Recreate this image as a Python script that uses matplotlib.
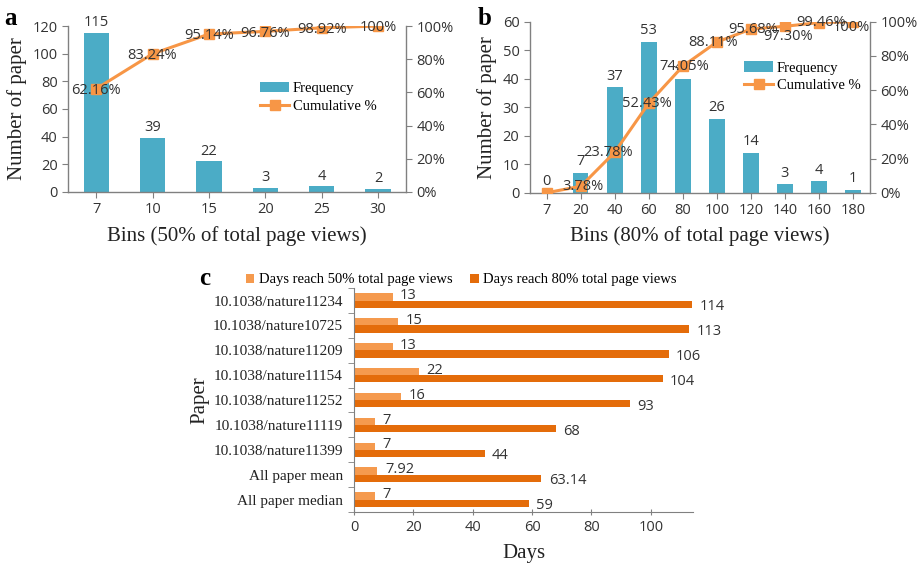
import matplotlib
matplotlib.use("Agg")
import matplotlib.pyplot as plt
import numpy as np

# Panel a data
a_bins = ["7", "10", "15", "20", "25", "30"]
a_freq = [115, 39, 22, 3, 4, 2]
a_cum = [62.16, 83.24, 95.14, 96.76, 98.92, 100.0]

# Panel b data
b_bins = ["7", "20", "40", "60", "80", "100", "120", "140", "160", "180"]
b_freq = [0, 7, 37, 53, 40, 26, 14, 3, 4, 1]
b_cum = [0.0, 3.78, 23.78, 52.43, 74.05, 88.11, 95.68, 97.30, 99.46, 100.0]

# Panel c data
c_papers = ["10.1038/nature11234", "10.1038/nature10725", "10.1038/nature11209",
            "10.1038/nature11154", "10.1038/nature11252", "10.1038/nature11119",
            "10.1038/nature11399", "All paper mean", "All paper median"]
c_days50 = [13, 15, 13, 22, 16, 7, 7, 7.92, 7]
c_days80 = [114, 113, 106, 104, 93, 68, 44, 63.14, 59]
c_lab50 = ["13", "15", "13", "22", "16", "7", "7", "7.92", "7"]
c_lab80 = ["114", "113", "106", "104", "93", "68", "44", "63.14", "59"]

BLUE = "#4BACC6"
ORANGE = "#F79646"
LIGHT_OR = "#F59A4E"
DARK_OR = "#E46C0A"
GRAY = "#808080"
TXT = "#333333"
SERIF = "Liberation Serif"
SANS = "Open Sans"

fig = plt.figure(figsize=(9.23, 5.66), dpi=100)


def style_axes(ax, ax2):
    for s in ["top"]:
        ax.spines[s].set_visible(False)
        ax2.spines[s].set_visible(False)
    ax.spines["right"].set_visible(False)
    ax2.spines["left"].set_visible(False)
    ax2.spines["bottom"].set_visible(False)
    for sp in [ax.spines["left"], ax.spines["bottom"], ax2.spines["right"]]:
        sp.set_color(GRAY)
        sp.set_linewidth(1.0)
    ax.tick_params(axis="y", colors=GRAY, labelcolor=TXT, length=4, labelsize=10.5)
    ax.tick_params(axis="x", colors=GRAY, labelcolor=TXT, length=4, labelsize=10.5)
    ax2.tick_params(axis="y", colors=GRAY, labelcolor=TXT, length=4, labelsize=10.5)
    for lab in ax.get_xticklabels() + ax.get_yticklabels() + ax2.get_yticklabels():
        lab.set_fontfamily(SANS)


def pct(v):
    return f"{v:.0f}%"


LEG_KW = dict(frameon=False, prop={"family": SERIF, "size": 10.5},
              handlelength=2.0, labelspacing=0.3, borderpad=0, handletextpad=0.25)

# ---------------- Panel a ----------------
axa = fig.add_axes([0.0737, 0.661, 0.3663, 0.293])
xa = np.arange(len(a_bins))
axa.bar(xa, a_freq, width=0.45, color=BLUE, label="Frequency", zorder=2)
axa.set_ylim(0, 120)
axa.set_yticks(np.arange(0, 121, 20))
axa.set_xlim(-0.5, len(a_bins) - 0.5)
axa.set_xticks(xa)
axa.set_xticklabels(a_bins)
for x, v in zip(xa, a_freq):
    axa.text(x, v + 2, str(v), ha="center", va="bottom", fontsize=10.5,
             family=SANS, color=TXT)
axa2 = axa.twinx()
axa2.plot(xa, a_cum, color=ORANGE, lw=2.2, marker="s", ms=7, label="Cumulative %", zorder=3)
axa2.set_ylim(0, 100)
axa2.set_yticks(np.arange(0, 101, 20))
axa2.set_yticklabels([pct(v) for v in np.arange(0, 101, 20)])
for x, v in zip(xa, a_cum):
    lab = f"{v:.2f}%" if v < 100 else "100%"
    axa2.text(x, v - 1, lab, ha="center", va="center", fontsize=10.5,
              family=SANS, color=TXT, zorder=4)
style_axes(axa, axa2)
axa.set_ylabel("Number of paper", family=SERIF, fontsize=15, color="#222222")
axa.set_xlabel("Bins (50% of total page views)", family=SERIF, fontsize=15,
               color="#222222", labelpad=6)
h1, l1 = axa.get_legend_handles_labels()
h2, l2 = axa2.get_legend_handles_labels()
axa2.legend(h1 + h2, l1 + l2, loc="upper left", bbox_to_anchor=(0.547, 0.705), **LEG_KW)
fig.text(0.005, 0.955, "a", family=SERIF, fontsize=18, fontweight="bold")

# ---------------- Panel b ----------------
axb = fig.add_axes([0.574, 0.6595, 0.3686, 0.3022])
xb = np.arange(len(b_bins))
axb.bar(xb, b_freq, width=0.45, color=BLUE, label="Frequency", zorder=2)
axb.set_ylim(0, 60)
axb.set_yticks(np.arange(0, 61, 10))
axb.set_xlim(-0.5, len(b_bins) - 0.5)
axb.set_xticks(xb)
axb.set_xticklabels(b_bins)
for x, v in zip(xb, b_freq):
    axb.text(x, v + 1.2, str(v), ha="center", va="bottom", fontsize=10.5,
             family=SANS, color=TXT)
axb2 = axb.twinx()
axb2.plot(xb, b_cum, color=ORANGE, lw=2.2, marker="s", ms=7, label="Cumulative %", zorder=3)
axb2.set_ylim(0, 100)
axb2.set_yticks(np.arange(0, 101, 20))
axb2.set_yticklabels([pct(v) for v in np.arange(0, 101, 20)])
b_dx = [0, 0.05, -0.2, -0.05, 0.05, -0.1, 0.05, 0.1, 0.05, -0.05]
b_dy = [None, 0, 0, 0, 0, 0, 0, -6, 0, -3.5]
for i, (x, v) in enumerate(zip(xb, b_cum)):
    if i == 0:
        continue
    lab = f"{v:.2f}%" if v < 100 else "100%"
    axb2.text(x + b_dx[i], v + b_dy[i], lab, ha="center", va="center", fontsize=10.5,
              family=SANS, color=TXT, zorder=4)
style_axes(axb, axb2)
axb.set_ylabel("Number of paper", family=SERIF, fontsize=15, color="#222222")
axb.set_xlabel("Bins (80% of total page views)", family=SERIF, fontsize=15,
               color="#222222", labelpad=6)
h1, l1 = axb.get_legend_handles_labels()
h2, l2 = axb2.get_legend_handles_labels()
axb2.legend(h1 + h2, l1 + l2, loc="upper left", bbox_to_anchor=(0.609, 0.81), **LEG_KW)
fig.text(0.518, 0.955, "b", family=SERIF, fontsize=18, fontweight="bold")

# ---------------- Panel c ----------------
axc = fig.add_axes([0.3835, 0.0954, 0.3675, 0.3956])
n = len(c_papers)
yc = np.arange(n)
bh = 0.29
axc.barh(yc - bh / 2, c_days50, height=bh, color=LIGHT_OR,
         label="Days reach 50% total page views")
axc.barh(yc + bh / 2, c_days80, height=bh, color=DARK_OR,
         label="Days reach 80% total page views")
for y, v, s in zip(yc, c_days50, c_lab50):
    axc.text(v + 2.5, y - bh / 2 - 0.05, s, ha="left", va="center", fontsize=10.5,
             family=SANS, color=TXT)
for y, v, s in zip(yc, c_days80, c_lab80):
    axc.text(v + 2.5, y + bh / 2 + 0.1, s, ha="left", va="center", fontsize=10.5,
             family=SANS, color=TXT, clip_on=False)
axc.set_ylim(n - 0.5, -0.5)
axc.set_xlim(0, 114.3)
axc.set_xticks([0, 20, 40, 60, 80, 100])
axc.set_yticks(yc)
axc.set_yticklabels(c_papers, family=SERIF, fontsize=11, color="#222222")
axc.set_yticks(np.arange(-0.5, n, 1), minor=True)
axc.tick_params(axis="y", which="major", length=0, pad=8)
axc.tick_params(axis="y", which="minor", length=4, color=GRAY)
axc.tick_params(axis="x", direction="inout", length=5, color=GRAY, labelsize=10.5,
                labelcolor=TXT)
for lab in axc.get_xticklabels():
    lab.set_fontfamily(SANS)
for s in ["top", "right"]:
    axc.spines[s].set_visible(False)
for s in ["left", "bottom"]:
    axc.spines[s].set_color(GRAY)
axc.set_xlabel("Days", family=SERIF, fontsize=15, color="#222222", labelpad=6)
axc.set_ylabel("Paper", family=SERIF, fontsize=15, color="#222222")
axc.yaxis.set_label_coords(-0.425, 0.5)
axc.legend(loc="lower center", bbox_to_anchor=(0.316, 0.975), ncol=2, frameon=False,
           prop={"family": SERIF, "size": 10.5}, handlelength=0.6, handleheight=0.6,
           columnspacing=1.2, handletextpad=0.3, borderpad=0.0)
fig.text(0.216, 0.497, "c", family=SERIF, fontsize=18, fontweight="bold")

fig.savefig("out.png", dpi=100)
